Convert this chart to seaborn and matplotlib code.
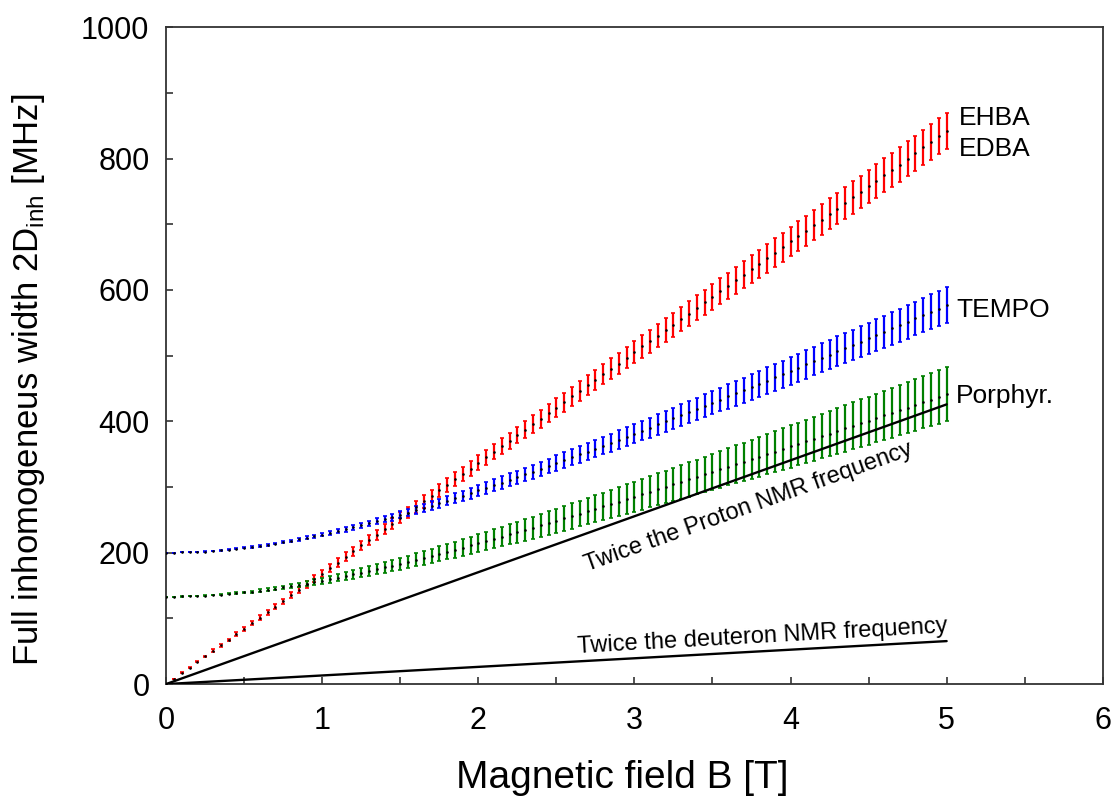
import matplotlib
matplotlib.use("Agg")
import matplotlib.pyplot as plt
import seaborn as sns
import numpy as np
import pandas as pd
from matplotlib.ticker import MultipleLocator

# field values, 0 ... 5 T in 0.05 T steps
field = [round(0.05 * i, 2) for i in range(101)]

# EHBA / EDBA (red)
ehba = [0, 8, 17, 25, 34, 42, 51, 59, 67, 76,
        84, 93, 101, 109, 118, 126, 135, 143, 152, 160,
        168, 177, 185, 194, 202, 211, 219, 227, 236, 244,
        253, 261, 269, 278, 286, 295, 303, 312, 320, 328,
        337, 345, 354, 362, 370, 379, 387, 396, 404, 413,
        421, 429, 438, 446, 455, 463, 472, 480, 488, 497,
        505, 514, 522, 530, 539, 547, 556, 564, 573, 581,
        589, 598, 606, 615, 623, 632, 640, 648, 657, 665,
        674, 682, 690, 699, 707, 716, 724, 733, 741, 749,
        758, 766, 775, 783, 791, 800, 808, 817, 825, 834,
        842]
ehba_err = [0, 0.3, 0.6, 0.8, 1.1, 1.4, 1.7, 2.0, 2.2, 2.5,
            2.8, 3.1, 3.4, 3.6, 3.9, 4.2, 4.5, 4.8, 5.0, 5.3,
            5.6, 5.9, 6.2, 6.4, 6.7, 7.0, 7.3, 7.6, 7.8, 8.1,
            8.4, 8.7, 9.0, 9.2, 9.5, 9.8, 10.1, 10.4, 10.6, 10.9,
            11.2, 11.5, 11.8, 12.0, 12.3, 12.6, 12.9, 13.2, 13.4, 13.7,
            14.0, 14.3, 14.6, 14.8, 15.1, 15.4, 15.7, 16.0, 16.2, 16.5,
            16.8, 17.1, 17.4, 17.6, 17.9, 18.2, 18.5, 18.8, 19.0, 19.3,
            19.6, 19.9, 20.2, 20.4, 20.7, 21.0, 21.3, 21.6, 21.8, 22.1,
            22.4, 22.7, 23.0, 23.2, 23.5, 23.8, 24.1, 24.4, 24.6, 24.9,
            25.2, 25.5, 25.8, 26.0, 26.3, 26.6, 26.9, 27.2, 27.4, 27.7,
            28.0]

# TEMPO (blue)
tempo = [200.0, 200.1, 200.3, 200.7, 201.2, 201.8, 202.6, 203.6, 204.6, 205.8,
         207.2, 208.7, 210.3, 212.0, 213.9, 215.8, 217.9, 220.1, 222.4, 224.9,
         227.4, 230.0, 232.7, 235.5, 238.5, 241.4, 244.5, 247.7, 250.9, 254.2,
         257.6, 261.0, 264.5, 268.1, 271.7, 275.4, 279.2, 283.0, 286.8, 290.7,
         294.7, 298.7, 302.7, 306.8, 310.9, 315.1, 319.3, 323.5, 327.8, 332.1,
         336.4, 340.8, 345.2, 349.6, 354.0, 358.5, 363.0, 367.6, 372.1, 376.7,
         381.3, 385.9, 390.5, 395.2, 399.9, 404.6, 409.3, 414.0, 418.7, 423.5,
         428.3, 433.1, 437.9, 442.7, 447.5, 452.4, 457.2, 462.1, 467.0, 471.9,
         476.8, 481.7, 486.6, 491.6, 496.5, 501.5, 506.4, 511.4, 516.4, 521.4,
         526.4, 531.4, 536.4, 541.4, 546.5, 551.5, 556.6, 561.6, 566.7, 571.7,
         576.8]
tempo_err = [0.0, 0.0, 0.0, 0.1, 0.1, 0.2, 0.3, 0.4, 0.5, 0.6,
             0.8, 0.9, 1.1, 1.2, 1.4, 1.6, 1.8, 2.0, 2.3, 2.5,
             2.7, 3.0, 3.2, 3.5, 3.8, 4.0, 4.3, 4.6, 4.9, 5.2,
             5.4, 5.7, 6.0, 6.3, 6.6, 6.9, 7.2, 7.5, 7.8, 8.2,
             8.5, 8.8, 9.1, 9.4, 9.7, 10.0, 10.3, 10.6, 11.0, 11.3,
             11.6, 11.9, 12.2, 12.5, 12.8, 13.1, 13.5, 13.8, 14.1, 14.4,
             14.7, 15.0, 15.3, 15.6, 16.0, 16.3, 16.6, 16.9, 17.2, 17.5,
             17.8, 18.1, 18.4, 18.8, 19.1, 19.4, 19.7, 20.0, 20.3, 20.6,
             20.9, 21.2, 21.5, 21.8, 22.1, 22.4, 22.8, 23.1, 23.4, 23.7,
             24.0, 24.3, 24.6, 24.9, 25.2, 25.5, 25.8, 26.1, 26.4, 26.7,
             27.0]

# Porphyrin (green)
porphyr = [133.0, 133.1, 133.3, 133.6, 134.1, 134.7, 135.4, 136.2, 137.2, 138.3,
           139.5, 140.8, 142.2, 143.8, 145.4, 147.2, 149.0, 151.0, 153.0, 155.1,
           157.4, 159.6, 162.0, 164.4, 166.9, 169.5, 172.2, 174.9, 177.6, 180.4,
           183.3, 186.2, 189.2, 192.2, 195.3, 198.4, 201.5, 204.7, 207.9, 211.1,
           214.4, 217.7, 221.1, 224.5, 227.9, 231.3, 234.7, 238.2, 241.7, 245.2,
           248.8, 252.3, 255.9, 259.5, 263.1, 266.8, 270.4, 274.1, 277.8, 281.5,
           285.2, 288.9, 292.7, 296.4, 300.2, 304.0, 307.7, 311.5, 315.3, 319.2,
           323.0, 326.8, 330.7, 334.5, 338.4, 342.3, 346.1, 350.0, 353.9, 357.8,
           361.7, 365.6, 369.6, 373.5, 377.4, 381.3, 385.3, 389.2, 393.2, 397.2,
           401.1, 405.1, 409.1, 413.0, 417.0, 421.0, 425.0, 429.0, 433.0, 437.0,
           441.0]
porphyr_err = [0.0, 0.0, 0.1, 0.1, 0.2, 0.3, 0.5, 0.7, 0.8, 1.1,
               1.3, 1.6, 1.8, 2.1, 2.4, 2.8, 3.1, 3.5, 3.8, 4.2,
               4.6, 5.0, 5.4, 5.8, 6.2, 6.7, 7.1, 7.5, 8.0, 8.4,
               8.9, 9.3, 9.8, 10.2, 10.7, 11.2, 11.6, 12.1, 12.6, 13.0,
               13.5, 14.0, 14.4, 14.9, 15.4, 15.8, 16.3, 16.8, 17.2, 17.7,
               18.2, 18.6, 19.1, 19.6, 20.0, 20.5, 21.0, 21.4, 21.9, 22.4,
               22.8, 23.3, 23.7, 24.2, 24.7, 25.1, 25.6, 26.1, 26.5, 27.0,
               27.4, 27.9, 28.3, 28.8, 29.3, 29.7, 30.2, 30.6, 31.1, 31.5,
               32.0, 32.4, 32.9, 33.3, 33.8, 34.3, 34.7, 35.2, 35.6, 36.1,
               36.5, 37.0, 37.4, 37.9, 38.3, 38.8, 39.2, 39.6, 40.1, 40.5,
               41.0]

# twice the NMR frequencies (straight lines)
nmr_field = [0, 5]
proton_nmr = [0, 425.8]
deuteron_nmr = [0, 65.4]

sns.set_style("white")
plt.rcParams['font.family'] = ['Liberation Sans', 'DejaVu Sans']
plt.rcParams['text.color'] = 'black'
plt.rcParams['axes.labelcolor'] = 'black'

fig, ax = plt.subplots(figsize=(11.15, 8.01), dpi=100)
fig.subplots_adjust(left=0.149, right=0.989, bottom=0.146, top=0.966)

series = [
    (ehba, ehba_err, "red"),
    (tempo, tempo_err, "blue"),
    (porphyr, porphyr_err, "green"),
]
for vals, errs, col in series:
    ax.errorbar(field, vals, yerr=errs, fmt="none", ecolor=col,
                elinewidth=1.6, capsize=1.5, capthick=1.2, zorder=2)
    sns.scatterplot(x=field, y=vals, ax=ax, color="black", marker="o",
                    s=3.5, linewidth=0, zorder=3)

sns.lineplot(x=nmr_field, y=proton_nmr, ax=ax, color="black", linewidth=1.7, zorder=4)
sns.lineplot(x=nmr_field, y=deuteron_nmr, ax=ax, color="black", linewidth=1.7, zorder=4)

ax.text(3.73, 270, "Twice the Proton NMR frequency", fontsize=17,
        rotation=19.7, ha="center", va="center")
ax.text(3.82, 72, "Twice the deuteron NMR frequency", fontsize=17,
        rotation=3.2, ha="center", va="center")

ax.text(5.08, 862, "EHBA", fontsize=19, va="center")
ax.text(5.08, 814, "EDBA", fontsize=19, va="center")
ax.text(5.06, 570, "TEMPO", fontsize=19, va="center")
ax.text(5.06, 438, "Porphyr.", fontsize=19, va="center")

ax.set_xlim(0, 6)
ax.set_ylim(0, 1000)
ax.xaxis.set_major_locator(MultipleLocator(1))
ax.xaxis.set_minor_locator(MultipleLocator(0.5))
ax.yaxis.set_major_locator(MultipleLocator(200))
ax.yaxis.set_minor_locator(MultipleLocator(100))
ax.tick_params(which="both", direction="in", length=5, width=1.2,
               bottom=True, left=True, top=False, right=False,
               colors="#333333", labelcolor="black", labelsize=22)
ax.tick_params(axis="x", which="both", pad=16)
ax.tick_params(axis="y", which="both", pad=12)

for sp in ax.spines.values():
    sp.set_color("#333333")
    sp.set_linewidth(1.3)

ax.set_xlabel("Magnetic field B [T]", fontsize=28)
ax.set_ylabel("Full inhomogeneus width 2D$_{\\mathregular{inh}}$ [MHz]", fontsize=25)
ax.xaxis.set_label_coords(0.487, -0.115)
ax.yaxis.set_label_coords(-0.127, 0.463)

fig.savefig("out.png", dpi=100)
